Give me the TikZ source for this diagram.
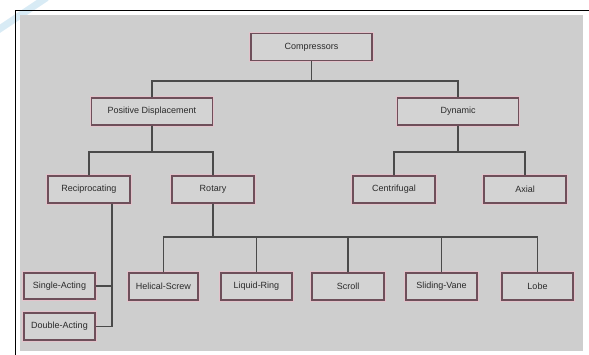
\documentclass[tikz,border=0pt]{standalone}
\usepackage{fontspec}
\setmainfont{Liberation Sans}
\definecolor{bggray}{HTML}{CECECE}
\definecolor{boxfill}{HTML}{D3D3D3}
\definecolor{boxline}{HTML}{6E4F5A}
\definecolor{boxglow}{HTML}{E3C3CB}
\definecolor{linkcol}{HTML}{4A4A4A}
\definecolor{txtcol}{HTML}{2A2A2A}
\definecolor{wmark}{HTML}{CFE6F3}
\begin{document}
\begin{tikzpicture}[x=1pt,y=-1pt,
  box/.style={draw=boxline, fill=boxfill, line width=1.2pt,
    preaction={draw=boxglow, line width=3.2pt},
    inner sep=0pt, font=\fontsize{9}{10}\selectfont, text=txtcol,
    minimum height=27pt},
  wbig/.style={minimum width=121pt},
  wmid/.style={minimum width=82pt},
  wsml/.style={minimum width=71pt},
  link/.style={draw=linkcol, line width=1.3pt}]
\useasboundingbox (0,0) rectangle (589,354);
\fill[white] (0,0) rectangle (589,354);
% watermark in the corner
\draw[wmark, line width=7pt, line cap=round, opacity=0.8] (-2,30) -- (46,-2);
% frame and panel
\fill[bggray] (20,15) rectangle (583,351);
\draw[black, line width=1.8pt] (15.5,356) -- (15.5,10.5) -- (592,10.5);
% boxes
\node[box,wbig] (comp) at (311.5,47) {Compressors};
\node[box,wbig] (pd) at (152,111.5) {Positive Displacement};
\node[box,wbig] (dyn) at (458,111.5) {Dynamic};
\node[box,wmid] (rec) at (89,189.5) {Reciprocating};
\node[box,wmid] (rot) at (213,189.5) {Rotary};
\node[box,wmid] (cen) at (394,189.5) {Centrifugal};
\node[box,wmid] (axi) at (525,189.5) {Axial};
\node[box,wsml,minimum height=26pt] (sa) at (59.5,286) {Single-Acting};
\node[box,wsml] (da) at (59.5,326.5) {Double-Acting};
\node[box,minimum width=69pt] (hs) at (163.5,286.5) {Helical-Screw};
\node[box,wsml] (lr) at (256.5,286.5) {Liquid-Ring};
\node[box,minimum width=72pt] (sc) at (348,286.5) {Scroll};
\node[box,wsml] (sv) at (441.5,286.5) {Sliding-Vane};
\node[box,wsml] (lo) at (537.5,286.5) {Lobe};
% bus levels
\coordinate (b1) at (0,81);
\coordinate (b2) at (0,152);
\coordinate (b3) at (0,237);
\coordinate (rv) at (112,0);
% connectors
\draw[link] (comp.south) -- (comp.south |- b1);
\draw[link] (pd.north) -- (pd.north |- b1) -- (dyn.north |- b1) -- (dyn.north);
\draw[link] (pd.south) -- (pd.south |- b2);
\draw[link] (rec.north) -- (rec.north |- b2) -- (rot.north |- b2) -- (rot.north);
\draw[link] (dyn.south) -- (dyn.south |- b2);
\draw[link] (cen.north) -- (cen.north |- b2) -- (axi.north |- b2) -- (axi.north);
\draw[link] (rot.south) -- (rot.south |- b3);
\draw[link] (hs.north) -- (hs.north |- b3) -- (lo.north |- b3) -- (lo.north);
\draw[link] (lr.north) -- (lr.north |- b3);
\draw[link] (sc.north) -- (sc.north |- b3);
\draw[link] (sv.north) -- (sv.north |- b3);
\draw[link] (rec.south -| rv) -- (da.east -| rv) -- (da.east);
\draw[link] (sa.east) -- (sa.east -| rv);
\end{tikzpicture}
\end{document}
